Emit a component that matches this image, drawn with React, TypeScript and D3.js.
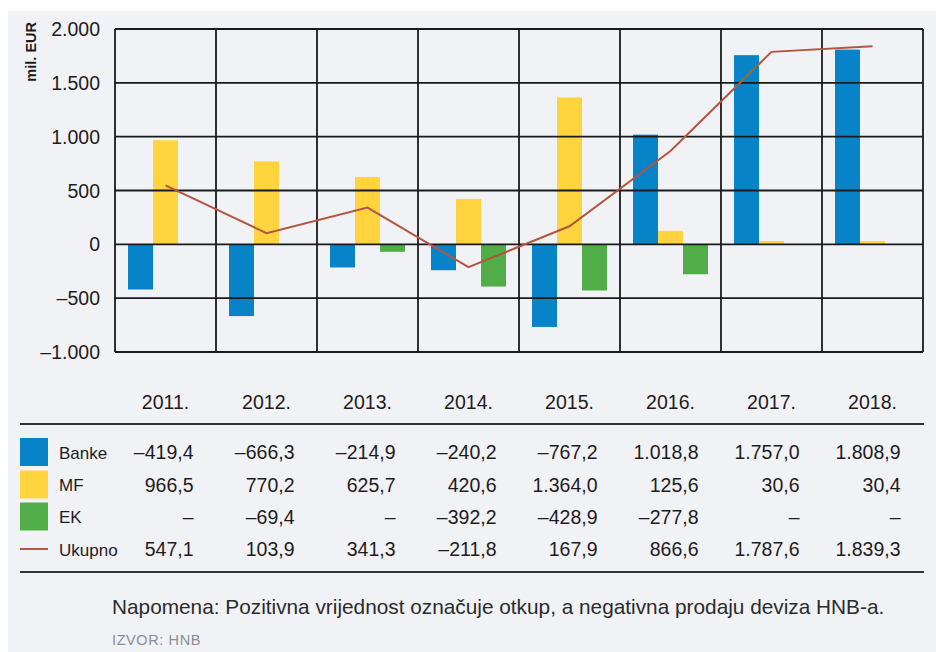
import React from "react";
import * as d3 from "d3";

const years = ["2011.", "2012.", "2013.", "2014.", "2015.", "2016.", "2017.", "2018."];
const banke = [-419.4, -666.3, -214.9, -240.2, -767.2, 1018.8, 1757.0, 1808.9];
const mf = [966.5, 770.2, 625.7, 420.6, 1364.0, 125.6, 30.6, 30.4];
const ekTable: (number | null)[] = [null, -69.4, null, -392.2, -428.9, -277.8, null, null];
// as drawn in the reference chart (EK bar appears in the 2013 slot)
const ekBars: (number | null)[] = [null, null, -69.4, -392.2, -428.9, -277.8, null, null];
const ukupno = [547.1, 103.9, 341.3, -211.8, 167.9, 866.6, 1787.6, 1839.3];
const yTicks = [-1000, -500, 0, 500, 1000, 1500, 2000];
const seriesNames = ["Banke", "MF", "EK", "Ukupno"];

const W = 936;
const H = 652;
const FONT = "'Liberation Sans', Arial, Helvetica, sans-serif";
const C_BLUE = "#0784c8";
const C_YELLOW = "#ffd43e";
const C_GREEN = "#50ad47";
const C_LINE = "#b4553f";
const C_TEXT = "#1f1b1c";

const fmt = (v: number | null) => {
  if (v === null) return "–";
  const neg = v < 0;
  const a = Math.abs(v);
  const intPart = Math.floor(a + 1e-9);
  const dec = Math.round((a - intPart) * 10);
  const intStr = intPart.toString().replace(/\B(?=(\d{3})+(?!\d))/g, ".");
  return (neg ? "–" : "") + intStr + "," + dec;
};
const fmtTick = (v: number) => {
  const a = Math.abs(v).toString().replace(/\B(?=(\d{3})+(?!\d))/g, ".");
  return (v < 0 ? "–" : "") + a;
};

export default function App() {
  const x = d3.scaleBand<string>().domain(years).range([115, 923]).padding(0);
  const y = d3.scaleLinear().domain([-1000, 2000]).range([352, 29]);
  const inner = d3
    .scaleBand<string>()
    .domain(["Banke", "MF", "EK"])
    .range([13, x.bandwidth() - 13])
    .padding(0);

  const line = d3
    .line<number>()
    .x((_, i) => (x(years[i]) as number) + x.bandwidth() / 2)
    .y((d) => y(d));

  const bars: { key: string; x: number; y: number; w: number; h: number; c: string }[] = [];
  const addSeries = (name: string, vals: (number | null)[], c: string) => {
    vals.forEach((v, i) => {
      if (v === null) return;
      const bx = (x(years[i]) as number) + (inner(name) as number);
      bars.push({
        key: name + i,
        x: bx,
        y: y(Math.max(0, v)),
        w: inner.bandwidth(),
        h: Math.abs(y(v) - y(0)),
        c,
      });
    });
  };
  addSeries("Banke", banke, C_BLUE);
  addSeries("MF", mf, C_YELLOW);
  addSeries("EK", ekBars, C_GREEN);

  const [x0, x1] = x.range();
  const tableRows = [
    { name: seriesNames[0], vals: banke as (number | null)[], color: C_BLUE, cy: 452 },
    { name: seriesNames[1], vals: mf as (number | null)[], color: C_YELLOW, cy: 484.5 },
    { name: seriesNames[2], vals: ekTable, color: C_GREEN, cy: 516.5 },
    { name: seriesNames[3], vals: ukupno as (number | null)[], color: C_LINE, cy: 549 },
  ];

  return (
    <svg
      width={W}
      height={H}
      style={{ position: "absolute", left: 0, top: 0, display: "block" }}
      fontFamily={FONT}
    >
      <rect x={0} y={0} width={W} height={H} fill="#ffffff" />
      <rect x={8} y={11} width={W - 8} height={H - 11} fill="#f1f2f6" />

      {/* bars */}
      {bars.map((b) => (
        <rect key={b.key} x={b.x} y={b.y} width={b.w} height={b.h} fill={b.c} />
      ))}

      {/* grid */}
      {yTicks.map((t) => (
        <line key={"h" + t} x1={x0} x2={x1} y1={y(t)} y2={y(t)} stroke="#1a1a1a" strokeWidth={1.8} />
      ))}
      {years.map((yr) => (
        <line
          key={"v" + yr}
          x1={x(yr) as number}
          x2={x(yr) as number}
          y1={y(2000)}
          y2={y(-1000)}
          stroke="#1a1a1a"
          strokeWidth={1.8}
        />
      ))}
      <line x1={x1} x2={x1} y1={y(2000)} y2={y(-1000)} stroke="#1a1a1a" strokeWidth={1.8} />

      {/* total line */}
      <path d={line(ukupno) || ""} fill="none" stroke={C_LINE} strokeWidth={2} />

      {/* y tick labels */}
      {yTicks.map((t) => (
        <text
          key={"t" + t}
          x={100}
          y={y(t) + 7}
          textAnchor="end"
          fontSize={19.5}
          fill={C_TEXT}
        >
          {fmtTick(t)}
        </text>
      ))}
      <text
        transform="translate(36,22) rotate(-90)"
        textAnchor="end"
        fontSize={14.5}
        fontWeight="bold"
        fill={C_TEXT}
      >
        mil. EUR
      </text>

      {/* year labels */}
      {years.map((yr) => (
        <text
          key={"y" + yr}
          x={(x(yr) as number) + x.bandwidth() / 2}
          y={409}
          textAnchor="middle"
          fontSize={19.5}
          fill={C_TEXT}
        >
          {yr}
        </text>
      ))}

      {/* table */}
      <line x1={20} x2={924} y1={424} y2={424} stroke="#333" strokeWidth={2} />
      <line x1={20} x2={924} y1={572} y2={572} stroke="#333" strokeWidth={2} />
      {tableRows.map((r, ri) => (
        <g key={r.name}>
          {ri < 3 ? (
            <rect x={20} y={r.cy - 14} width={28} height={28} fill={r.color} />
          ) : (
            <line x1={20} x2={48} y1={r.cy} y2={r.cy} stroke={r.color} strokeWidth={2} />
          )}
          <text x={59} y={r.cy + 6.5} fontSize={17} fill={C_TEXT}>
            {r.name}
          </text>
          {r.vals.map((v, i) => (
            <text
              key={i}
              x={(x(years[i]) as number) + x.bandwidth() / 2 + 28}
              y={r.cy + 7}
              textAnchor="end"
              fontSize={19.5}
              fill={C_TEXT}
            >
              {fmt(v)}
            </text>
          ))}
        </g>
      ))}

      <text x={112} y={614} fontSize={20.8} fill="#2b2b2b">
        Napomena: Pozitivna vrijednost označuje otkup, a negativna prodaju deviza HNB-a.
      </text>
      <text x={112} y={645} fontSize={14.5} fill="#8a8d98" letterSpacing={0.6}>
        IZVOR: HNB
      </text>
    </svg>
  );
}
